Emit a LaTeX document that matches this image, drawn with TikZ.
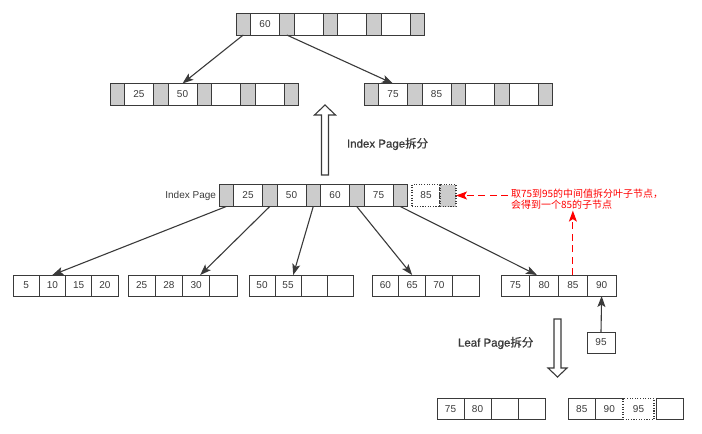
\documentclass[tikz,border=0pt]{standalone}
\usepackage{fontspec}
\setmainfont{Liberation Sans}
\newfontfamily\cjk{Noto Sans CJK SC}
\newfontfamily\semib[FakeBold=0.8]{Liberation Sans}
\newfontfamily\cjksemib[FakeBold=0.8]{Noto Sans CJK SC}
\usetikzlibrary{positioning,arrows.meta,calc}
\definecolor{linec}{HTML}{3A3A3A}
\definecolor{grayf}{HTML}{CCCCCC}
\definecolor{redc}{HTML}{FF0000}
\tikzset{
 base/.style={draw=linec, line width=1pt, inner sep=0pt, outer sep=0pt, anchor=west, font=\fontsize{10}{11}\selectfont, text=linec},
 gcell/.style={base, fill=grayf, minimum width=14.5pt, minimum height=22pt},
 wcell/.style={base, fill=white, minimum width=29pt, minimum height=22pt},
 lcell/.style={base, fill=white, minimum height=21pt},
 dotcell/.style={base, line width=1.1pt, dash pattern=on 1.1pt off 1.5pt},
 conn/.style={draw=linec, line width=1.1pt, -{Stealth[length=11pt,width=8pt,inset=2.5pt]}},
 redconn/.style={draw=redc, line width=1.1pt, dash pattern=on 7pt off 4.5pt, -{Stealth[length=11pt,width=8pt,inset=2.5pt]}},
 hollow/.style={draw=linec, line width=1.1pt, fill=white},
 lbl/.style={inner sep=0pt, outer sep=0pt, text=linec},
}
\newcommand\pagerow[4]{%
  \node[gcell] (#1-g0) at (#2,#3) {};
  \foreach \v [count=\i, remember=\i as \j (initially 0)] in {#4} {
    \node[wcell, right=0pt of #1-g\j] (#1-w\i) {\v};
    \node[gcell, right=0pt of #1-w\i] (#1-g\i) {};
  }%
}
\newcommand\leafrow[5]{%
  \coordinate (#1-c0) at (#2,#3);
  \foreach \v [count=\i, remember=\i as \j (initially 0)] in {#5} {
    \node[lcell, minimum width=#4pt, right=0pt of #1-c\j] (#1-c\i) {\v};
  }%
}
\begin{document}
\begin{tikzpicture}[x=1pt,y=-1pt]
\useasboundingbox (0,0) rectangle (702,434);
% page rows
\pagerow{top}{236}{24}{60,{},{},{}}
\pagerow{lft}{110}{94.5}{25,50,{},{}}
\pagerow{rgt}{364}{94.5}{75,85,{},{}}
\pagerow{idx}{219}{195.5}{25,50,60,75}
\node[dotcell, fill=white, minimum width=28pt, minimum height=22pt] (dot85) at (412,195.5) {85};
\node[dotcell, fill=grayf, minimum width=16pt, minimum height=22pt, right=0pt of dot85] (dotg) {};
% leaves
\leafrow{lfa}{13}{285.5}{26.25}{5,10,15,20}
\leafrow{lfb}{128}{285.5}{27.25}{25,28,30,{}}
\leafrow{lfc}{249}{285.5}{26}{50,55,{},{}}
\leafrow{lfd}{372}{285.5}{26.75}{60,65,70,{}}
\leafrow{lfe}{501}{285.5}{28.75}{75,80,85,90}
% new leaves
\leafrow{nla}{437}{409}{27}{75,80,{},{}}
\leafrow{nlb}{568}{409}{27.5}{85,90}
\node[lcell, dotcell, minimum width=31pt, right=0pt of nlb-c2] (nlb-c3) {95};
\node[lcell, minimum width=27pt] (nlb-c4) at (656,409) {};
\node[lcell, minimum width=28pt] (b95) at (587,342.5) {95};
% labels
\node[lbl, anchor=east, font=\fontsize{10}{12}\selectfont] (idxlbl) at (216,196) {Index Page};
\node[lbl, anchor=west, font=\fontsize{11.5}{13}\selectfont\semib] (isplit) at (347,144) {Index Page{\cjksemib 拆分}};
\node[lbl, anchor=west, font=\fontsize{11.5}{13}\selectfont\semib] (lsplit) at (458,343) {Leaf Page{\cjksemib 拆分}};
\node[lbl, anchor=west, align=left, text=redc, font=\cjk\fontsize{10}{11}\selectfont] (rtext) at (511,199.5) {取75到95的中间值拆分叶子节点，\\会得到一个85的子节点};
% connectors
\draw[conn] (top-g0.south) -- (lft-w2.north);
\draw[conn] (top-g1.south) -- (rgt-w1.north);
\draw[conn] (idx-g0.south) -- (lfa-c2.north);
\draw[conn] (idx-g1.south) -- ($(lfb-c3.north west)!0.65!(lfb-c3.north east)$);
\draw[conn] (idx-g2.south) -- ($(lfc-c2.north west)!0.7!(lfc-c2.north east)$);
\draw[conn] (idx-g3.south) -- (lfd-c2.north);
\draw[conn] (idx-g4.south) -- ($(lfe-c2.north west)!0.25!(lfe-c2.north east)$);
\draw[redconn] ([xshift=-3pt]rtext.west |- dotg.east) -- (dotg.east);
\draw[redconn] (lfe-c3.north) -- ([yshift=-1pt]lfe-c3.north |- rtext.south);
\draw[conn] (b95.north) -- (lfe-c4.south);
% hollow arrows
\draw[hollow] (321.5,175) -- (321.5,115) -- (314.5,115) -- (325,105) -- (335.5,115) -- (328.5,115) -- (328.5,175) -- cycle;
\draw[hollow] (554,319) -- (554,368) -- (548,368) -- (557.5,377) -- (567,368) -- (561,368) -- (561,319) -- cycle;
\end{tikzpicture}
\end{document}
